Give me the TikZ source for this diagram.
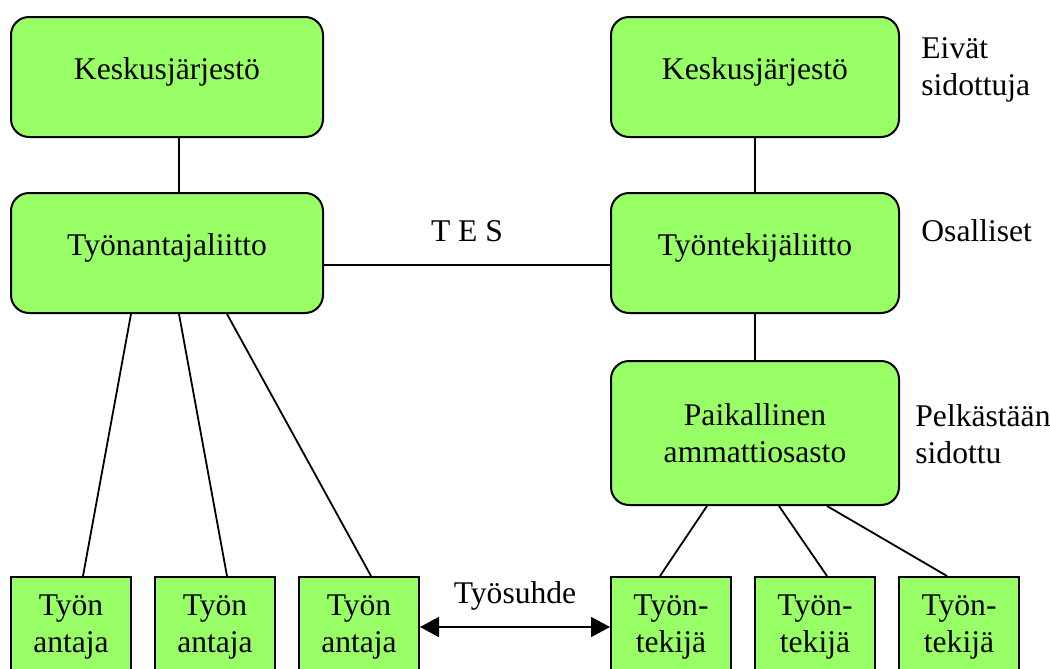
\documentclass[tikz,border=0pt]{standalone}
\usepackage{fontspec}
\setmainfont{Liberation Serif}
\usetikzlibrary{arrows.meta}
\definecolor{boxgreen}{RGB}{153,255,102}
\begin{document}
\begin{tikzpicture}[x=0.5pt,y=-0.5pt,
  font=\fontsize{15.8}{18.5}\selectfont,
  rbox/.style={draw=black, line width=1pt, fill=boxgreen, rounded corners=9pt, inner sep=0pt, align=center},
  onel/.style={text height=0.45em, text depth=0.2em},
  sbox/.style={draw=black, line width=1pt, fill=boxgreen, inner sep=0pt, minimum width=60pt, minimum height=50pt, align=center},
  conn/.style={line width=0.9pt},
  side/.style={anchor=west, align=left, inner sep=0pt},
  dblarrow/.style={line width=0.9pt, {Triangle[length=9.5pt,width=10pt]}-{Triangle[length=9.5pt,width=10pt]}}]
\useasboundingbox (0,0) rectangle (1050,669);
\clip (0,0) rectangle (1050,669);
% top and middle boxes
\node[rbox, onel, minimum width=156pt, minimum height=60pt] (k1) at (167,77) {Keskusjärjestö};
\node[rbox, onel, minimum width=156pt, minimum height=60pt] (ta) at (167,253) {Työnantajaliitto};
\node[rbox, onel, minimum width=144pt, minimum height=60pt] (k2) at (755,77) {Keskusjärjestö};
\node[rbox, onel, minimum width=144pt, minimum height=60pt] (tl) at (755,253) {Työntekijäliitto};
\node[rbox, minimum width=144pt, minimum height=72pt] (pa) at (755,433) {Paikallinen\\ammattiosasto};
% bottom boxes
\node[sbox] (a1) at (71,627) {Työn\\antaja};
\node[sbox] (a2) at (215,627) {Työn\\antaja};
\node[sbox] (a3) at (359,627) {Työn\\antaja};
\node[sbox] (w1) at (671,627) {Työn-\\tekijä};
\node[sbox] (w2) at (815,627) {Työn-\\tekijä};
\node[sbox] (w3) at (959,627) {Työn-\\tekijä};
% side labels
\node[side] (s1) at (921,70) {Eivät\\sidottuja};
\node[side] (s2) at (921,231) {Osalliset};
\node[side] (s3) at (915,434) {Pelkästään\\sidottu};
% connectors
\draw[conn] ([xshift=6pt]k1.south) -- ([xshift=6pt]ta.north);
\draw[conn] (k2.south) -- (tl.north);
\draw[conn] (tl.south) -- (pa.north);
\draw[conn] ([yshift=-6pt]ta.east) -- node[above=11pt, inner sep=0pt] (tes) {T E S} ([yshift=-6pt]tl.west);
\draw[conn] ([xshift=-18pt]ta.south) -- ([xshift=6pt]a1.north);
\draw[conn] ([xshift=6pt]ta.south) -- ([xshift=6pt]a2.north);
\draw[conn] ([xshift=30pt]ta.south) -- ([xshift=6pt]a3.north);
\draw[conn] ([xshift=-24pt]pa.south) -- ([xshift=-5.5pt]w1.north);
\draw[conn] ([xshift=12pt]pa.south) -- ([xshift=6pt]w2.north);
\draw[conn] ([xshift=36pt]pa.south) -- ([xshift=-6pt]w3.north);
\draw[dblarrow] (a3.east) -- node[above=8pt, inner sep=0pt] (ts) {Työsuhde} (w1.west);
\end{tikzpicture}
\end{document}
